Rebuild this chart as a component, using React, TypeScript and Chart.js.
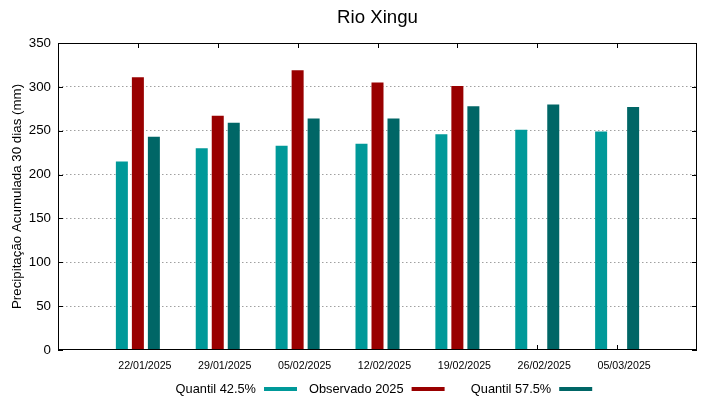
import React, { useEffect, useRef } from "react";
import { Chart, registerables } from "chart.js";

Chart.register(...registerables);

const chartTitle = "Rio Xingu";
const yAxisTitle = "Precipitação Acumulada 30 dias (mm)";
const dates = ["22/01/2025", "29/01/2025", "05/02/2025", "12/02/2025", "19/02/2025", "26/02/2025", "05/03/2025"];
const quantil425 = [215, 230, 233, 235, 246, 251, 249];
const observado2025: (number | null)[] = [311, 267, 319, 305, 301, null, null];
const quantil575 = [243, 259, 264, 264, 278, 280, 277];
const seriesNames = ["Quantil 42.5%", "Observado 2025", "Quantil 57.5%"];
const seriesColors = ["#009999", "#990000", "#006666"];
const yTicks = [0, 50, 100, 150, 200, 250, 300, 350];

const FONT = '"Liberation Sans", Arial, sans-serif';

const pad = (arr: (number | null)[]) => [null, ...arr, null];

const decorPlugin = {
  id: "decor",
  beforeDatasetsDraw(chart: any) {
    const { ctx, chartArea: a, scales } = chart;
    ctx.save();
    ctx.strokeStyle = "#000";
    ctx.lineWidth = 1;
    ctx.beginPath();
    for (const t of scales.y.ticks) {
      const py = Math.round(scales.y.getPixelForValue(t.value)) + 0.5;
      ctx.moveTo(a.left, py);
      ctx.lineTo(a.left + 5, py);
      ctx.moveTo(a.right - 5, py);
      ctx.lineTo(a.right, py);
    }
    for (let i = 0; i < dates.length; i++) {
      const px = Math.round(scales.x.getPixelForValue(i + 1)) + 0.5;
      ctx.moveTo(px, a.top);
      ctx.lineTo(px, a.top + 5);
      ctx.moveTo(px, a.bottom);
      ctx.lineTo(px, a.bottom - 5);
    }
    ctx.stroke();
    ctx.restore();
  },
  afterDraw(chart: any) {
    const { ctx, chartArea: a } = chart;
    ctx.save();
    // frame
    ctx.strokeStyle = "#000";
    ctx.lineWidth = 1;
    ctx.strokeRect(a.left + 0.5, a.top + 0.5, a.right - a.left - 1, a.bottom - a.top - 1);
    // title
    ctx.fillStyle = "#000";
    ctx.font = `18.67px ${FONT}`;
    ctx.textAlign = "center";
    ctx.textBaseline = "alphabetic";
    ctx.fillText(chartTitle, (a.left + a.right) / 2, 23.3);
    // legend
    ctx.font = `12.8px ${FONT}`;
    ctx.textAlign = "right";
    const baseY = chart.height - 6.5;
    chart.data.datasets.forEach((ds: any, i: number) => {
      const sx = a.left + 206 + i * 147.6;
      ctx.fillStyle = ds.backgroundColor;
      ctx.fillRect(sx, chart.height - 12, 33, 4);
      ctx.fillStyle = "#000";
      ctx.fillText(ds.label, sx - 8, baseY);
    });
    ctx.restore();
  },
};

export default function App() {
  const ref = useRef<HTMLCanvasElement>(null);
  useEffect(() => {
    document.body.style.margin = "0";
    const chart = new Chart(ref.current!, {
      type: "bar",
      data: {
        labels: ["", ...dates, ""],
        datasets: [
          { label: seriesNames[0], data: pad(quantil425), backgroundColor: seriesColors[0] },
          { label: seriesNames[1], data: pad(observado2025), backgroundColor: seriesColors[1] },
          { label: seriesNames[2], data: pad(quantil575), backgroundColor: seriesColors[2] },
        ],
      },
      options: {
        responsive: false,
        animation: false,
        categoryPercentage: 0.601,
        barPercentage: 0.75,
        layout: { padding: { top: 43, right: 22, bottom: 0, left: 0 } },
        plugins: { legend: { display: false }, tooltip: { enabled: false }, title: { display: false } },
        scales: {
          x: {
            type: "category",
            offset: false,
            grid: { display: false, drawTicks: false },
            border: { display: false },
            ticks: {
              autoSkip: false,
              maxRotation: 0,
              padding: 10,
              labelOffset: 7,
              color: "#000",
              font: { family: FONT, size: 10.67 },
            },
            afterFit: (s: any) => { s.height = 49; },
          },
          y: {
            min: 0,
            max: 350,
            afterBuildTicks: (s: any) => { s.ticks = yTicks.map((v) => ({ value: v })); },
            grid: {
              drawTicks: false,
              color: (c: any) => (c.tick && (c.tick.value === 0 || c.tick.value === 350) ? "rgba(0,0,0,0)" : "#a0a0a0"),
              lineWidth: 1,
            },
            border: { display: false, dash: [1.5, 2.5] },
            ticks: { padding: 7, color: "#000", font: { family: FONT, size: 13.33 } },
            title: {
              display: true,
              text: yAxisTitle,
              color: "#000",
              font: { family: FONT, size: 13.33 },
              padding: { top: 9, bottom: 0 },
            },
            afterFit: (s: any) => { s.width = 58; },
          },
        },
      },
      plugins: [decorPlugin],
    });
    return () => chart.destroy();
  }, []);
  return (
    <div style={{ position: "absolute", left: 0, top: 0, width: 719, height: 399 }}>
      <canvas ref={ref} width={719} height={399} />
    </div>
  );
}
